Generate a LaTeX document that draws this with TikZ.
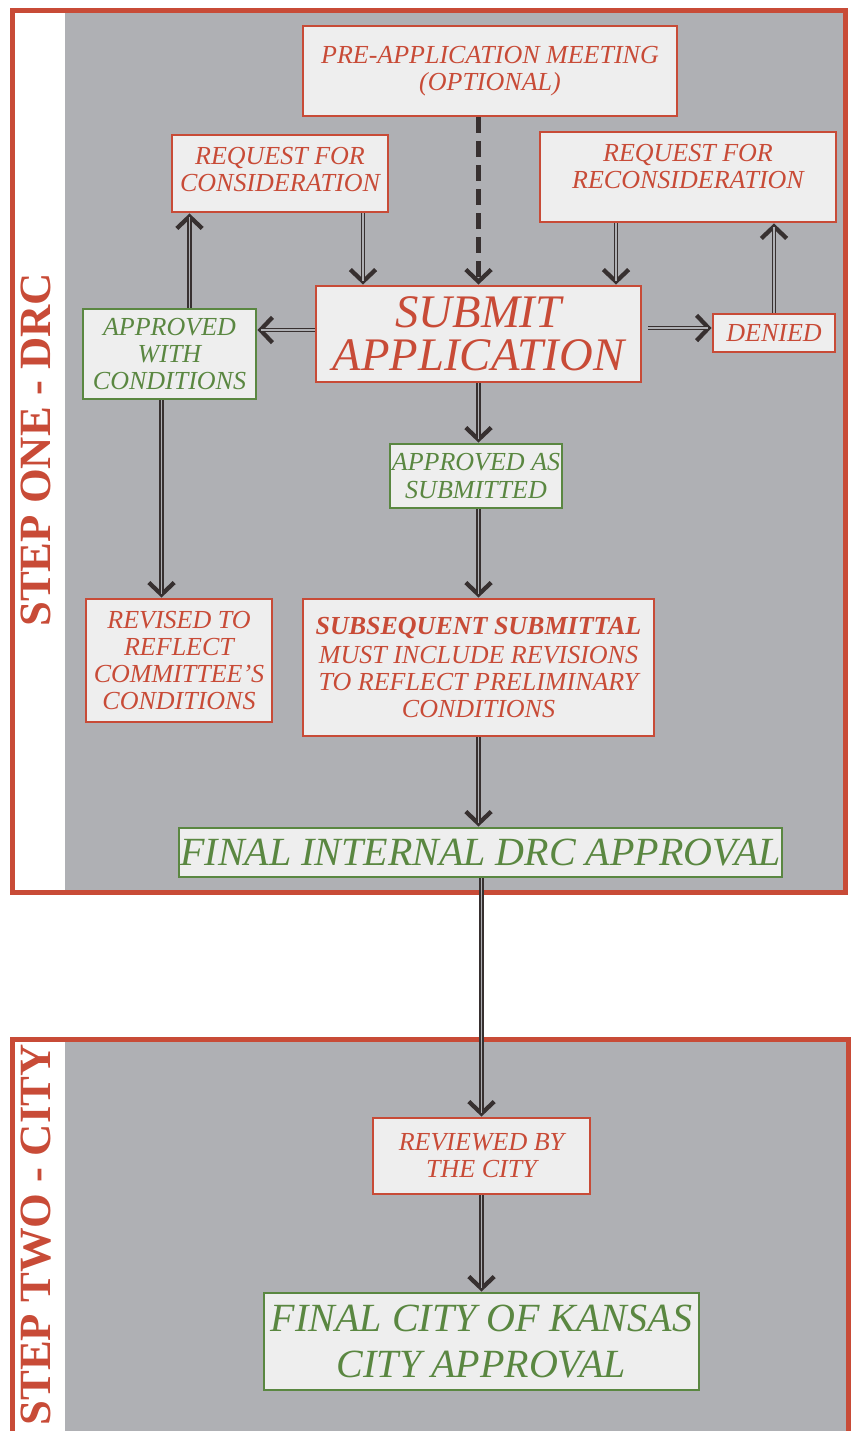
\documentclass[tikz,border=0pt]{standalone}
\usepackage{fontspec}
\setmainfont{Liberation Serif}
\usetikzlibrary{arrows.meta}
\newlength\px \setlength\px{0.75pt}
\definecolor{redc}{HTML}{C84B37}
\definecolor{greenc}{HTML}{5A8741}
\definecolor{bgc}{HTML}{AFB0B4}
\definecolor{boxc}{HTML}{EEEEEE}
\definecolor{arrc}{HTML}{373030}
\begin{document}
\begin{tikzpicture}[x=0.75pt,y=-0.75pt,
  box/.style={draw=redc, fill=boxc, line width=2.2pt, inner sep=0pt, align=center, text=redc},
  gbox/.style={box, draw=greenc, text=greenc},
  sm/.style={font=\itshape\fontsize{19.5}{20.3}\selectfont},
  tipc/.style={-{Straight Barb[length=9pt,width=19pt,line width=3.2pt]}},
  conn/.style={draw=arrc, line width=3.3pt, tipc,
    postaction={draw=bgc, line width=0.8pt, arrows=-, shorten >=3pt}},
  dconn/.style={draw=arrc, line width=4pt, dash pattern=on 12pt off 6pt, tipc},
  steplabel/.style={rotate=90, anchor=base, text=redc, font=\bfseries\fontsize{33.5}{34}\selectfont}]
\clip (0,0) rectangle (856,1431);
% frames
\fill[bgc] (65,10.5) rectangle (845.5,892.5);
\draw[redc, line width=3.8pt] (12.5,10.5) rectangle (845.5,892.5);
\fill[bgc] (65,1039.5) rectangle (848.5,1445);
\draw[redc, line width=3.8pt] (12.5,1039.5) rectangle (848.5,1450);
\node[steplabel] (s1) at (50,450) {STEP ONE - DRC};
\node[steplabel] (s2) at (50,1235) {STEP TWO - CITY};
% boxes
\node[box, sm, minimum width=374\px, minimum height=90\px] (pre) at (490,71) {PRE-APPLICATION MEETING\\(OPTIONAL)\\[-16pt]\mbox{}};
\node[box, sm, minimum width=216\px, minimum height=77\px] (rfc) at (280,173.5) {REQUEST FOR\\CONSIDERATION\\[-14pt]\mbox{}};
\node[box, sm, minimum width=296\px, minimum height=90\px] (rrc) at (688,177) {REQUEST FOR\\RECONSIDERATION\\[-5pt]\mbox{}};
\node[box, font=\itshape\fontsize{35}{32}\selectfont, minimum width=325\px, minimum height=96\px] (sub) at (478.5,334) {SUBMIT\\APPLICATION};
\node[gbox, sm, minimum width=173\px, minimum height=90\px] (awc) at (169.5,354) {APPROVED\\WITH\\CONDITIONS};
\node[box, sm, minimum width=122\px, minimum height=38\px] (den) at (774,333) {DENIED};
\node[gbox, sm, minimum width=172\px, minimum height=64\px] (aas) at (476,476) {APPROVED AS\\SUBMITTED};
\node[box, sm, minimum width=186\px, minimum height=123\px] (rev) at (179,660.5) {REVISED TO\\REFLECT\\COMMITTEE’S\\CONDITIONS};
\node[box, sm, minimum width=351\px, minimum height=137\px] (ss) at (478.5,667.5) {\textbf{SUBSEQUENT SUBMITTAL}\\[2pt]MUST INCLUDE REVISIONS\\TO REFLECT PRELIMINARY\\CONDITIONS};
\node[gbox, font=\itshape\fontsize{30}{31}\selectfont, minimum width=603\px, minimum height=49\px] (fin) at (480.5,852.5) {FINAL INTERNAL DRC APPROVAL};
\node[box, sm, minimum width=217\px, minimum height=76\px] (rbc) at (481.5,1156) {REVIEWED BY\\THE CITY};
\node[gbox, font=\itshape\fontsize{30}{35}\selectfont, minimum width=435\px, minimum height=97\px] (fcc) at (481.5,1341.5) {FINAL CITY OF KANSAS\\CITY APPROVAL};
% connectors
\draw[dconn] (sub.north |- pre.south) -- (sub.north);
\draw[conn] ([xshift=83\px]rfc.south) -- ([xshift=83\px]rfc.south |- sub.north);
\draw[conn] ([xshift=20\px]awc.north) -- ([xshift=20\px]awc.north |- rfc.south);
\draw[conn] ([yshift=4\px]sub.west) -- ([yshift=4\px]sub.west -| awc.east);
\draw[conn] ([xshift=6\px,yshift=6\px]sub.east) -- ([yshift=6\px]sub.east -| den.west);
\draw[conn] (den.north) -- (den.north |- rrc.south);
\draw[conn] ([xshift=-72\px]rrc.south) -- ([xshift=-72\px]rrc.south |- sub.north);
\draw[conn] (sub.south) -- (sub.south |- aas.north);
\draw[conn] (ss.north |- aas.south) -- (ss.north);
\draw[conn] ([xshift=-8\px]awc.south) -- ([xshift=-8\px]awc.south |- rev.north);
\draw[conn] (ss.south) -- (ss.south |- fin.north);
\draw[conn] (rbc.north |- fin.south) -- (rbc.north);
\draw[conn] (rbc.south) -- (rbc.south |- fcc.north);
\end{tikzpicture}
\end{document}
